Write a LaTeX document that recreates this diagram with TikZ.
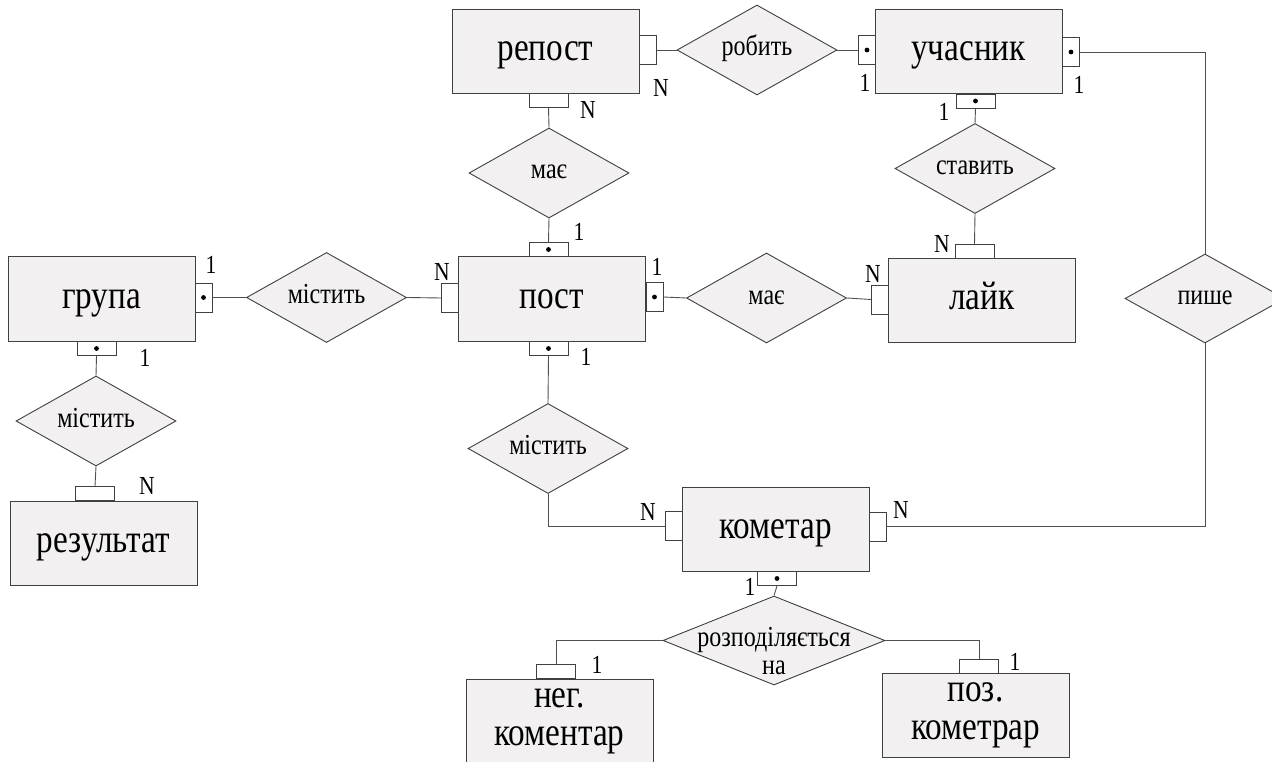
\documentclass[tikz,border=0pt]{standalone}
\usepackage{fontspec}
\setmainfont{Liberation Serif}[FakeStretch=0.83]
\usetikzlibrary{shapes.geometric}
\definecolor{boxfill}{HTML}{F2F0F0}
\definecolor{edge}{HTML}{404040}
\definecolor{wire}{HTML}{505050}
\tikzset{
  entity/.style={draw=edge, line width=1pt, fill=boxfill, rectangle, minimum width=187pt, minimum height=84pt, inner sep=0pt, align=center, font=\fontsize{40}{38}\selectfont},
  oneline/.style={text height=18pt, text depth=0pt},
  rel/.style={draw=edge, line width=0.9pt, fill=boxfill, diamond, minimum width=160pt, minimum height=90pt, inner sep=0pt},
  reltext/.style={inner sep=0pt, align=center, font=\fontsize{29}{28}\selectfont},
  reltextone/.style={reltext, text height=12pt, text depth=0pt},
  vstub/.style={draw=edge, line width=0.9pt, fill=white, rectangle, minimum width=17pt, minimum height=29pt, inner sep=0pt},
  hstub/.style={draw=edge, line width=0.9pt, fill=white, rectangle, minimum width=39pt, minimum height=14pt, inner sep=0pt},
  one/.style={path picture={\fill[black] (path picture bounding box.center) circle (2.4pt);}},
  card/.style={inner sep=0pt, font=\fontsize{26}{26}\selectfont},
  wireline/.style={draw=wire, line width=0.9pt},
}
\begin{document}
\begin{tikzpicture}[x=1pt, y=-1pt]
\useasboundingbox (0,0) rectangle (1272,762);
\clip (0,0) rectangle (1272,762);

% entities
\node[entity, oneline] (repost) at (545.5,51.5) {репост};
\node[entity, oneline] (uchasnyk) at (968.5,52) {учасник};
\node[entity, oneline] (hrupa) at (101.5,299) {група};
\node[entity, oneline] (post) at (551.5,299) {пост};
\node[entity, oneline] (layk) at (982,300.5) {лайк};
\node[entity, oneline] (rezultat) at (103.5,543) {результат};
\node[entity, oneline] (kometar) at (775.5,529) {кометар};
\node[entity] (neg) at (559.5,721) {нег.\\коментар};
\node[entity] (poz) at (975.5,715.5) {поз.\\кометрар};

% relationships
\node[rel] (robyt) at (757,50) {};
\node[reltextone] (robyt-t) at (robyt) {робить};
\node[rel] (mae1) at (549,173) {};
\node[reltextone] (mae1-t) at (mae1) {має};
\node[rel] (stavyt) at (975,168.5) {};
\node[reltextone] (stavyt-t) at (stavyt) {ставить};
\node[rel] (mistyt1) at (326.5,297.5) {};
\node[reltextone] (mistyt1-t) at (mistyt1) {містить};
\node[rel] (mae2) at (766.5,298) {};
\node[reltextone] (mae2-t) at (mae2) {має};
\node[rel, minimum height=89pt] (pyshe) at (1205,298.5) {};
\node[reltextone] (pyshe-t) at (pyshe) {пише};
\node[rel] (mistyt2) at (96,421) {};
\node[reltextone] (mistyt2-t) at (mistyt2) {містить};
\node[rel] (mistyt3) at (548,448.5) {};
\node[reltextone] (mistyt3-t) at (mistyt3) {містить};
\node[rel, minimum width=222pt, minimum height=89pt] (rozpod) at (774,640.5) {};
\node[reltext] (rozpod-t) at (774,651) {розподіляється\\на};

% stubs
\node[vstub] (rp-r) at (648,50) {};
\node[hstub] (rp-b) at (548.5,100.5) {};
\node[vstub, one] (uc-l) at (867,50) {};
\node[vstub, one] (uc-r) at (1071,52) {};
\node[hstub, one] (uc-b) at (975.5,101) {};
\node[vstub, one] (hr-r) at (203.5,297.5) {};
\node[hstub, one] (hr-b) at (96.5,348.5) {};
\node[vstub] (ps-l) at (450,298) {};
\node[vstub, one] (ps-r) at (654.5,297) {};
\node[hstub, one] (ps-t) at (548.5,249.5) {};
\node[hstub, one] (ps-b) at (548.5,348.5) {};
\node[vstub] (lk-l) at (880,299.5) {};
\node[hstub] (lk-t) at (974.5,251.5) {};
\node[hstub] (rz-t) at (95,493.5) {};
\node[vstub] (km-l) at (674,526) {};
\node[vstub] (km-r) at (877.5,526.5) {};
\node[hstub, one] (km-b) at (777,578.5) {};
\node[hstub] (ng-t) at (556,671.5) {};
\node[hstub] (pz-t) at (979,666) {};

% connectors
\draw[wireline] (rp-r.east) -- (robyt.west);
\draw[wireline] (robyt.east) -- (uc-l.west);
\draw[wireline] (uc-r.east) -| (pyshe.north);
\draw[wireline] (uc-b.south) -- (stavyt.north);
\draw[wireline] (stavyt.south) -- (lk-t.north);
\draw[wireline] (rp-b.south) -- (mae1.north);
\draw[wireline] (mae1.south) -- (ps-t.north);
\draw[wireline] (hr-r.east) -- (mistyt1.west);
\draw[wireline] (mistyt1.east) -- (ps-l.west);
\draw[wireline] (ps-r.east) -- (mae2.west);
\draw[wireline] (mae2.east) -- (lk-l.west);
\draw[wireline] (hr-b.south) -- (mistyt2.north);
\draw[wireline] (mistyt2.south) -- (rz-t.north);
\draw[wireline] (ps-b.south) -- (mistyt3.north);
\draw[wireline] (mistyt3.south) |- (km-l.west);
\draw[wireline] (km-r.east) -| (pyshe.south);
\draw[wireline] (km-b.south) -- (rozpod.north);
\draw[wireline] (rozpod.west) -| (ng-t.north);
\draw[wireline] (rozpod.east) -| (pz-t.north);

% cardinalities
\node[card] (c1) at (661,88) {N};
\node[card] (c2) at (588,110) {N};
\node[card] (c3) at (865,83) {1};
\node[card] (c4) at (1079,85) {1};
\node[card] (c5) at (944,112) {1};
\node[card] (c6) at (579,232) {1};
\node[card] (c7) at (442,272) {N};
\node[card] (c8) at (657,267) {1};
\node[card] (c9) at (586,357) {1};
\node[card] (c10) at (873,274) {N};
\node[card] (c11) at (211,265) {1};
\node[card] (c12) at (145,358) {1};
\node[card] (c13) at (147,486) {N};
\node[card] (c14) at (942,244) {N};
\node[card] (c15) at (648,512) {N};
\node[card] (c16) at (901,510) {N};
\node[card] (c17) at (750,587) {1};
\node[card] (c18) at (597,665) {1};
\node[card] (c19) at (1015,662) {1};
\end{tikzpicture}
\end{document}
